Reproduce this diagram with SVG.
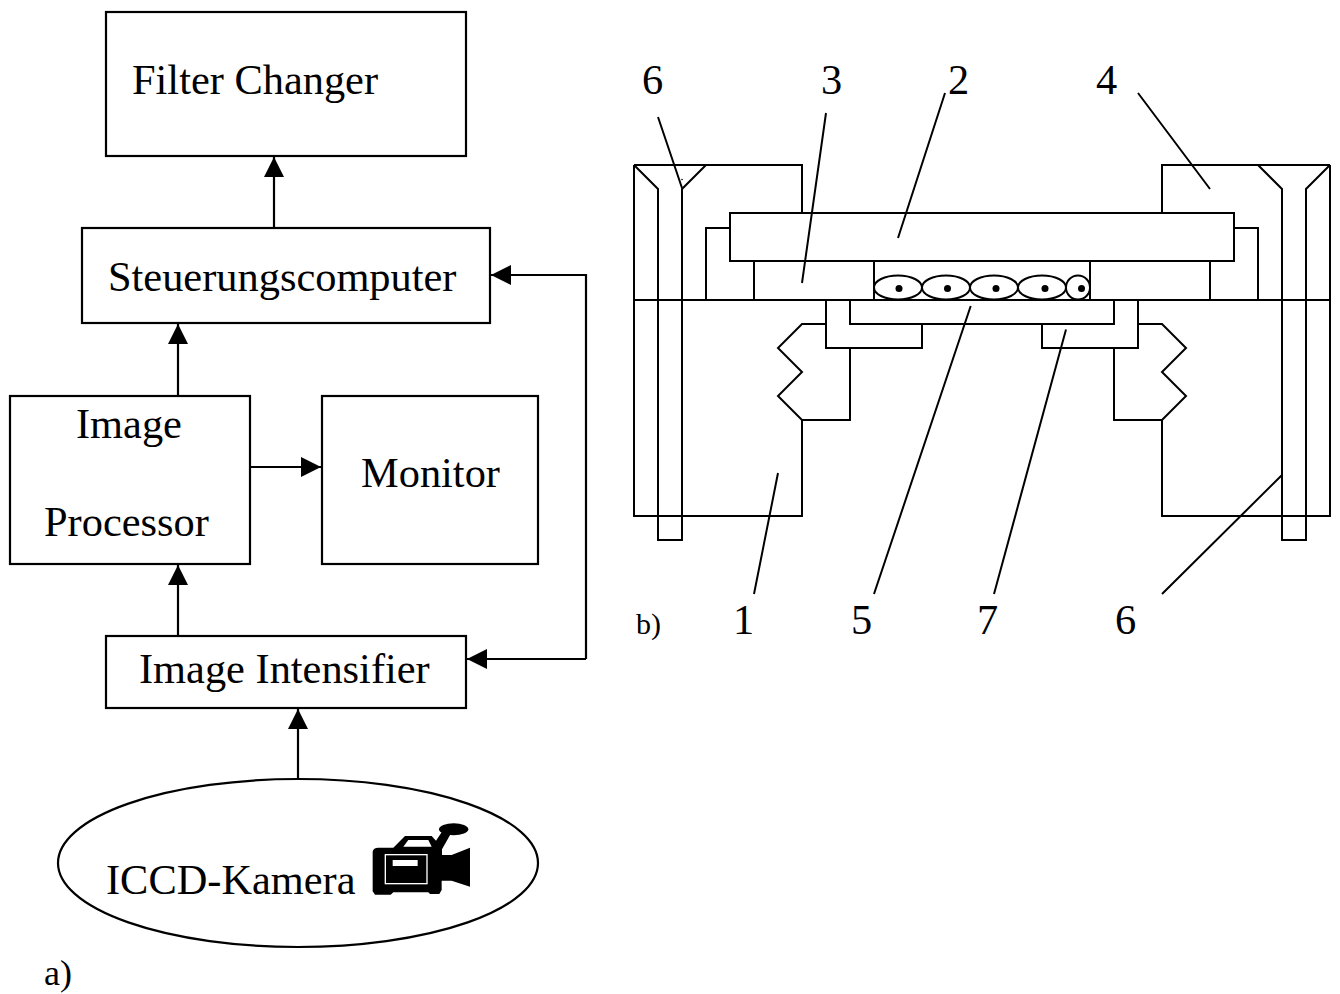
<svg xmlns="http://www.w3.org/2000/svg" width="1340" height="994" viewBox="0 0 1340 994">
<style>
text{font-family:"Liberation Serif","Times New Roman",serif;font-size:42.4px;fill:#000}
.b{fill:#fff;stroke:#000;stroke-width:2.2}
.l{fill:none;stroke:#000;stroke-width:2.2}
.t{fill:none;stroke:#000;stroke-width:2;stroke-linejoin:miter}
.d{fill:#000}
</style>
<defs>
<marker id="arrow" markerUnits="userSpaceOnUse" markerWidth="24" markerHeight="22" refX="20" refY="11" orient="auto"><path d="M0 1L20 11L0 21Z" fill="#000"/></marker>
</defs>
<rect width="1340" height="994" fill="#fff"/>
<g id="connectors">
<path class="l" d="M274 228V157" marker-end="url(#arrow)"/>
<path class="l" d="M178 396V324" marker-end="url(#arrow)"/>
<path class="l" d="M178 636V565" marker-end="url(#arrow)"/>
<path class="l" d="M298 780V709" marker-end="url(#arrow)"/>
<path class="l" d="M250 467H321" marker-end="url(#arrow)"/>
<path class="l" d="M586 659V275H491" marker-end="url(#arrow)"/>
<path class="l" d="M586 659H467" marker-end="url(#arrow)"/>
</g>
<g id="filter-changer"><rect class="b" x="106" y="12" width="360" height="144"/><text x="132" y="94">Filter Changer</text></g>
<g id="steuerungscomputer"><rect class="b" x="82" y="228" width="408" height="95"/><text x="108" y="291">Steuerungscomputer</text></g>
<g id="image-processor"><rect class="b" x="10" y="396" width="240" height="168"/><text x="76" y="438">Image</text><text x="44" y="536">Processor</text></g>
<g id="monitor"><rect class="b" x="322" y="396" width="216" height="168"/><text x="361" y="487">Monitor</text></g>
<g id="image-intensifier"><rect class="b" x="106" y="636" width="360" height="72"/><text x="139" y="683">Image Intensifier</text></g>
<g id="iccd-kamera">
<ellipse class="b" cx="298" cy="863" rx="240" ry="84"/>
<text x="106" y="894">ICCD-Kamera</text>
<g transform="translate(350 810) scale(.3333)">
<path class="d" d="M68 125Q70 113 85 113H130L165 78H245L258 92L278 62L302 72L276 118V135H305L360 113V230L305 212H275V240L268 252H240L235 247H130L122 254H75L68 244Z"/>
<ellipse class="d" cx="311" cy="58" rx="44" ry="18"/>
<path fill="#fff" d="M160 110L175 90H235L245 110Z"/>
<rect x="106" y="134" width="125" height="87" fill="none" stroke="#fff" stroke-width="4"/>
<rect x="128" y="150" width="75" height="18" fill="#fff"/>
</g>
</g>
<g id="label-a"><text x="44" y="985" style="font-size:36px">a)</text></g>
<g id="figure-b">
<path class="t" d="M634 165H802V213M802 420V516H634V165M634 165L658 189V540H682V189L706 165M682 189V300"/>
<path class="t" d="M1330 165H1162V213M1162 420V516H1330V165M1330 165L1306 189V540H1282V189L1258 165"/>
<path class="t" d="M634 300H1330"/>
<rect class="t" x="730" y="213" width="504" height="48"/>
<path class="t" d="M730 228H706V300M754 261V300M874 261V300M1090 261V300M1210 261V300M1234 228H1258V300"/>
<ellipse class="t" cx="898" cy="287.5" rx="24" ry="12"/>
<ellipse class="t" cx="946" cy="287.5" rx="24" ry="12"/>
<ellipse class="t" cx="994" cy="287.5" rx="24" ry="12"/>
<ellipse class="t" cx="1042" cy="287.5" rx="24" ry="12"/>
<circle class="t" cx="1078" cy="287.5" r="12"/>
<circle class="d" cx="899" cy="288.5" r="3.5"/>
<circle class="d" cx="947.5" cy="288.5" r="3.5"/>
<circle class="d" cx="996" cy="288.5" r="3.5"/>
<circle class="d" cx="1045" cy="288.5" r="3.5"/>
<circle class="d" cx="1081.5" cy="288.5" r="3.5"/>
<circle class="d" cx="682" cy="179.5" r="0.8"/>
<path class="t" d="M826 324H802L778 348L802 372L778 396L802 420H850V348M826 300V348H922V324M850 300V324H1114V300M1138 300V348H1042V324M1138 324H1162L1186 348L1162 372L1186 396L1162 420H1114V348"/>
<path class="t" d="M658 117L682 188M826 113L802 283M945 93L898 238M1138 93L1210 189M970.7 306L874 594M778 473L754 594M1066 329.5L994 594M1282 475L1162 594"/>
<text x="642" y="94">6</text>
<text x="821" y="94">3</text>
<text x="948" y="94">2</text>
<text x="1096" y="94">4</text>
<text x="636" y="634" style="font-size:30px">b)</text>
<text x="733" y="634">1</text>
<text x="851" y="634">5</text>
<text x="977" y="634">7</text>
<text x="1115" y="634">6</text>
</g>
</svg>
